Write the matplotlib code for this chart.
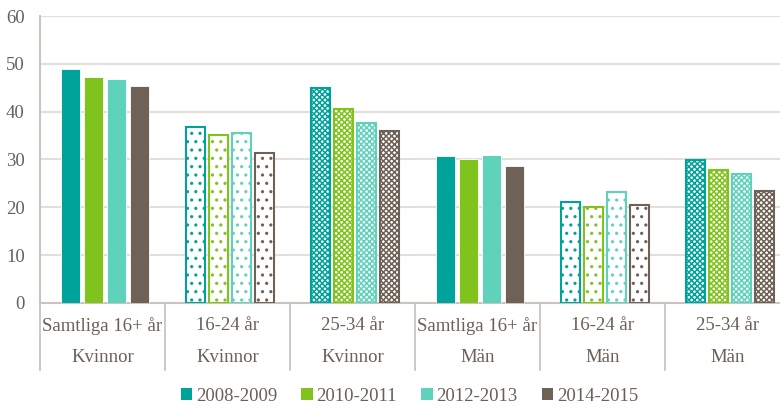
import matplotlib.pyplot as plt
import numpy as np

groups = ["Samtliga 16+ år", "16-24 år", "25-34 år", "Samtliga 16+ år", "16-24 år", "25-34 år"]
sexes = ["Kvinnor", "Kvinnor", "Kvinnor", "Män", "Män", "Män"]
series = ["2008-2009", "2010-2011", "2012-2013", "2014-2015"]
v2008 = [49.0, 36.8, 45.0, 30.7, 21.1, 29.9]
v2010 = [47.3, 35.1, 40.5, 30.1, 20.1, 27.9]
v2012 = [46.9, 35.5, 37.7, 31.0, 23.1, 26.9]
v2014 = [45.4, 31.3, 35.9, 28.6, 20.5, 23.5]
colors = ["#00a39a", "#7fc31c", "#5fd2bc", "#6e6155"]
hatches = [None, "..", "xxxxxx", None, "..", "xxxxxx"]

text_col = "#6b5f57"
axis_col = "#cbc3bc"
grid_col = "#e3dfdb"

plt.rcParams['font.family'] = ['Liberation Serif', 'DejaVu Serif']
plt.rcParams['hatch.linewidth'] = 1.1

fig = plt.figure(figsize=(7.8, 4.11), dpi=100)
ax = fig.add_axes([0.0513, 0.263, 0.9615, 0.698])

x = np.arange(len(groups))
width = 0.15
step = 0.183
for i, vals in enumerate([v2008, v2010, v2012, v2014]):
    pos = x + (i - 1.5) * step + 0.02
    for j in range(len(groups)):
        if hatches[j] is None:
            ax.bar(pos[j], vals[j], width, color=colors[i], edgecolor="white", linewidth=0.6, zorder=3)
        else:
            ax.bar(pos[j], vals[j], width, facecolor="white", edgecolor=colors[i],
                   hatch=hatches[j], linewidth=1.5, zorder=3)
    ax.bar(0, 0, 0, color=colors[i], label=series[i])

ax.set_xlim(-0.5, len(groups) - 0.5)
ax.set_ylim(0, 60)
ax.set_yticks(range(0, 61, 10))
ax.yaxis.grid(True, color=grid_col, linewidth=1.5, zorder=0)
ax.set_xticks([])
for s in ["top", "right"]:
    ax.spines[s].set_visible(False)
ax.spines["left"].set_color(axis_col)
ax.spines["left"].set_linewidth(1.5)
ax.spines["bottom"].set_color(axis_col)
ax.spines["bottom"].set_linewidth(1.5)
ax.tick_params(axis="y", length=0, labelsize=13.5, labelcolor=text_col, pad=11)

trans = ax.get_xaxis_transform()
for b in np.arange(-0.5, len(groups) + 0.5, 1.0):
    ax.plot([b, b], [0, -0.235], color=axis_col, linewidth=1.3, transform=trans, clip_on=False)
for j in range(len(groups)):
    ax.text(x[j], -0.08, groups[j], transform=trans, ha="center", va="center",
            fontsize=13.5, color=text_col)
    ax.text(x[j], -0.19, sexes[j], transform=trans, ha="center", va="center",
            fontsize=13.5, color=text_col)

leg = fig.legend(loc="upper center", bbox_to_anchor=(0.525, 0.075), ncol=4, frameon=False,
                 handlelength=0.6, handleheight=0.6, handletextpad=0.2, columnspacing=1.3,
                 fontsize=13.5, borderaxespad=0)
for t in leg.get_texts():
    t.set_color(text_col)

fig.savefig("out.png", dpi=100)
